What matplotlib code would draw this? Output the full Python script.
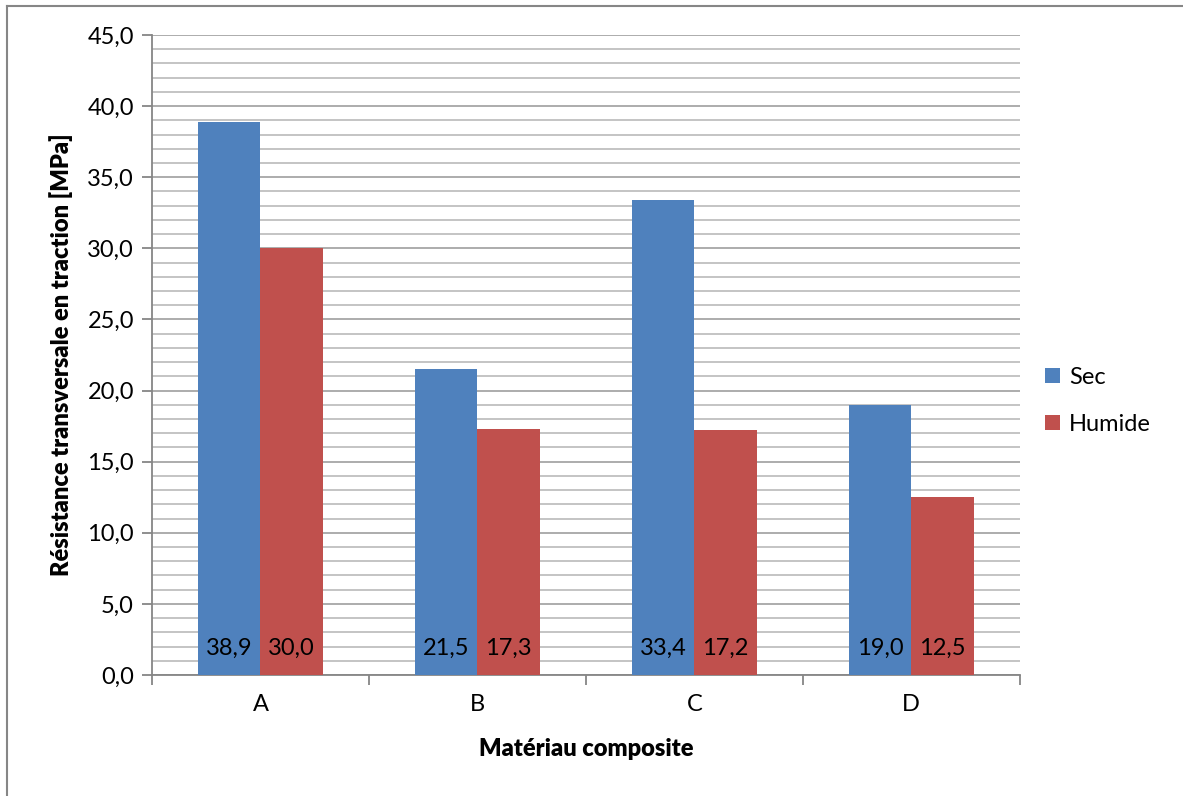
import numpy as np
import matplotlib.pyplot as plt
from matplotlib.lines import Line2D
from matplotlib.ticker import MultipleLocator, FuncFormatter

plt.rcParams['font.family'] = ['Lato', 'DejaVu Sans']

materiaux = ['A', 'B', 'C', 'D']
sec = [38.9, 21.5, 33.4, 19.0]
humide = [30.0, 17.3, 17.2, 12.5]

bleu = '#4f81bd'
rouge = '#c0504d'

fig = plt.figure(figsize=(11.83, 7.96), dpi=100)
ax = fig.add_axes([0.1285, 0.152, 0.7335, 0.804])

x = np.arange(len(materiaux))
w = 0.287
b1 = ax.bar(x - w / 2, sec, w, color=bleu, label='Sec', zorder=3)
b2 = ax.bar(x + w / 2, humide, w, color=rouge, label='Humide', zorder=3)

# valeurs écrites en bas des barres
for bars, vals in ((b1, sec), (b2, humide)):
    for r, v in zip(bars, vals):
        ax.text(r.get_x() + r.get_width() / 2, 1.9, f'{v:.1f}'.replace('.', ','),
                ha='center', va='center', fontsize=17, color='black', zorder=4)

ax.set_xlim(-0.5, len(materiaux) - 0.5)
ax.set_ylim(0, 45)
ax.yaxis.set_major_locator(MultipleLocator(5))
ax.yaxis.set_minor_locator(MultipleLocator(1))
ax.yaxis.set_major_formatter(FuncFormatter(lambda v, p: f'{v:.1f}'.replace('.', ',')))
ax.grid(axis='y', which='major', color='#a6a6a6', lw=1.3, zorder=0)
ax.grid(axis='y', which='minor', color='#bfbfbf', lw=1.3, zorder=0)

ax.set_xticks(x)
ax.set_xticklabels(materiaux)
ax.set_xticks(np.arange(len(materiaux) + 1) - 0.5, minor=True)
ax.tick_params(axis='x', which='major', length=0, labelsize=17, pad=14)
ax.tick_params(axis='x', which='minor', length=7, color='#868686', width=1.3, direction='out')
ax.tick_params(axis='y', which='major', length=7, color='#868686', width=1.3, labelsize=17, pad=6)
ax.tick_params(axis='y', which='minor', length=0)

for s in ('top', 'right'):
    ax.spines[s].set_visible(False)
for s in ('left', 'bottom'):
    ax.spines[s].set_color('#868686')
    ax.spines[s].set_linewidth(1.3)

ax.set_xlabel('Matériau composite', fontsize=17, fontweight='heavy', labelpad=16)
ax.set_ylabel('Résistance transversale en traction [MPa]', fontsize=17, fontweight='heavy', labelpad=10)

ax.legend(loc='center left', bbox_to_anchor=(1.005, 0.428), frameon=False, fontsize=17,
          handlelength=0.6, handleheight=0.6, handletextpad=0.4, labelspacing=1.1)

# cadre du graphique
fig.add_artist(Line2D([0.006, 0.006], [0, 0.993], color='#868686', lw=1.5))
fig.add_artist(Line2D([0.006, 1], [0.993, 0.993], color='#868686', lw=1.5))

fig.savefig('out.png', dpi=100)
